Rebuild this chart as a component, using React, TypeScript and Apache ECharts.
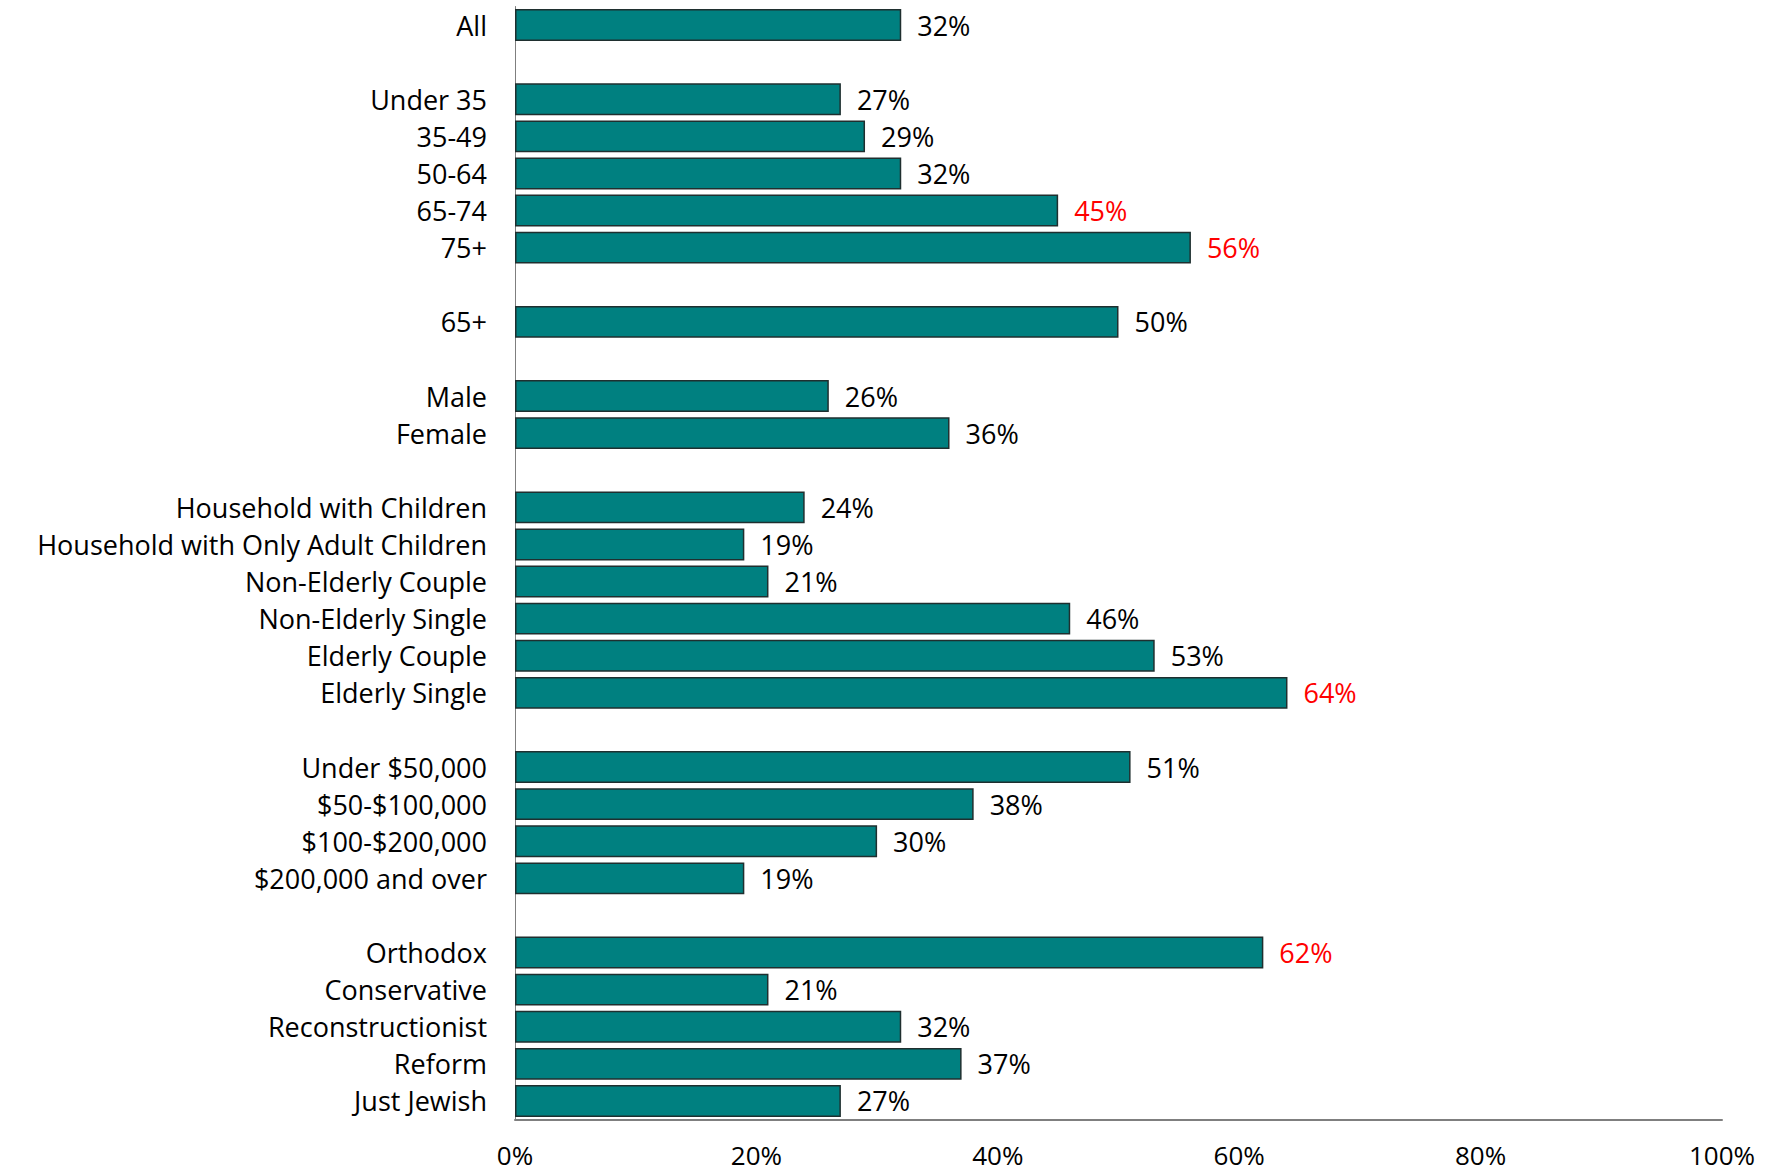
import React, { useEffect, useRef } from "react";
import * as echarts from "echarts";

const categories: string[] = [
  "All",
  "",
  "Under 35",
  "35-49",
  "50-64",
  "65-74",
  "75+",
  "",
  "65+",
  "",
  "Male",
  "Female",
  "",
  "Household with Children",
  "Household with Only Adult Children",
  "Non-Elderly Couple",
  "Non-Elderly Single",
  "Elderly Couple",
  "Elderly Single",
  "",
  "Under $50,000",
  "$50-$100,000",
  "$100-$200,000",
  "$200,000 and over",
  "",
  "Orthodox",
  "Conservative",
  "Reconstructionist",
  "Reform",
  "Just Jewish",
];

const values: (number | null)[] = [
  32, null, 27, 29, 32, 45, 56, null, 50, null, 26, 36, null, 24, 19, 21, 46, 53, 64, null, 51, 38, 30, 19, null, 62, 21, 32, 37, 27,
];

const highlighted: string[] = ["65-74", "75+", "Elderly Single", "Orthodox"];

const xTicks: number[] = [0, 20, 40, 60, 80, 100];

const FONT = "'Open Sans', Lato, sans-serif";

export default function App() {
  const ref = useRef<HTMLDivElement>(null);

  useEffect(() => {
    if (!ref.current) return;
    const chart = echarts.init(ref.current, undefined, { renderer: "svg" });
    const data = values.map((v, i) =>
      v === null
        ? null
        : {
            value: v,
            label: { color: highlighted.includes(categories[i]) ? "#ff0000" : "#000000" },
          }
    );
    chart.setOption({
      animation: false,
      backgroundColor: "#ffffff",
      grid: { left: 515, right: 54, top: 6.5, height: 1113, containLabel: false },
      xAxis: {
        type: "value",
        min: xTicks[0],
        max: xTicks[xTicks.length - 1],
        interval: 20,
        axisLine: { show: true, lineStyle: { color: "#7f7f7f", width: 2 } },
        axisTick: { show: false },
        splitLine: { show: false },
        axisLabel: {
          formatter: "{value}%",
          color: "#000",
          fontSize: 26,
          fontFamily: FONT,
          margin: 22,
        },
      },
      yAxis: {
        type: "category",
        inverse: true,
        data: categories,
        axisLine: { show: true, lineStyle: { color: "#7f7f7f", width: 1 } },
        axisTick: { show: false },
        axisLabel: {
          color: "#000",
          fontSize: 27,
          fontFamily: FONT,
          margin: 28,
          interval: 0,
        },
      },
      series: [
        {
          type: "bar",
          data,
          barCategoryGap: "14%",
          itemStyle: { color: "#008080", borderColor: "#1f2f2f", borderWidth: 1.5 },
          label: {
            show: true,
            position: "right",
            distance: 16,
            formatter: "{c}%",
            fontSize: 27,
            fontFamily: FONT,
          },
        },
      ],
    });
    return () => chart.dispose();
  }, []);

  return (
    <div
      ref={ref}
      style={{ position: "fixed", left: 0, top: 0, width: 1776, height: 1172, background: "#fff" }}
    />
  );
}
